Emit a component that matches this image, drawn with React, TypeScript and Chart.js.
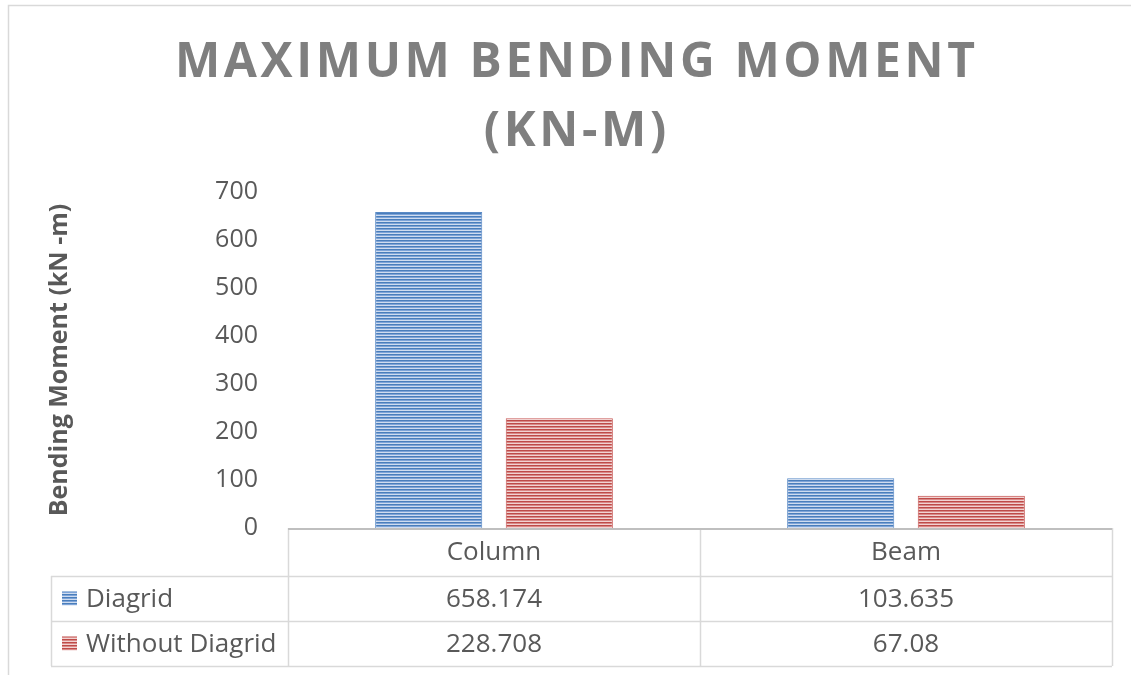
import React, { useEffect, useRef } from "react";
import { Chart, registerables } from "chart.js";

Chart.register(...registerables);

const titleLines = ["MAXIMUM BENDING MOMENT", "(KN-M)"];
const categories = ["Column", "Beam"];
const seriesNames = ["Diagrid", "Without Diagrid"];
const diagridValues = [658.174, 103.635];
const withoutDiagridValues = [228.708, 67.08];
const yAxisTitle = "Bending Moment (kN -m)";
const yMin = 0;
const yMax = 700;
const yStep = 100;

const FONT = "'Open Sans', 'DejaVu Sans', sans-serif";

function stripePattern(dark: string, mid: string, light: string) {
  const c = document.createElement("canvas");
  c.width = 4;
  c.height = 3;
  const g = c.getContext("2d")!;
  g.fillStyle = dark;
  g.fillRect(0, 0, 4, 1);
  g.fillStyle = mid;
  g.fillRect(0, 1, 4, 1);
  g.fillStyle = light;
  g.fillRect(0, 2, 4, 1);
  return g.createPattern(c, "repeat")!;
}

export default function App() {
  const ref = useRef<HTMLCanvasElement | null>(null);

  useEffect(() => {
    document.body.style.margin = "0";
    const canvas = ref.current!;
    const bluePattern = stripePattern("#4a7ebb", "#7ea4d8", "#cfdcef");
    const redPattern = stripePattern("#be4b48", "#d98987", "#f1d3d2");

    const framePlugin = {
      id: "frame",
      beforeDraw(chart: any) {
        const ctx = chart.ctx;
        ctx.save();
        ctx.fillStyle = "#ffffff";
        ctx.fillRect(0, 0, chart.width, chart.height);
        ctx.strokeStyle = "#d9d9d9";
        ctx.lineWidth = 1.5;
        ctx.beginPath();
        ctx.moveTo(8.5, chart.height + 2);
        ctx.lineTo(8.5, 5.5);
        ctx.lineTo(chart.width, 5.5);
        ctx.stroke();
        ctx.restore();
      },
    };

    const titlePlugin = {
      id: "spacedTitle",
      afterDraw(chart: any) {
        const ctx = chart.ctx;
        ctx.save();
        ctx.fillStyle = "#7f7f7f";
        ctx.font = `bold 48px ${FONT}`;
        ctx.textAlign = "center";
        ctx.textBaseline = "alphabetic";
        const targetWidth = 800;
        const plain = ctx.measureText(titleLines[0]).width;
        const spacing = (targetWidth - plain) / (titleLines[0].length - 1);
        (ctx as any).letterSpacing = `${spacing.toFixed(2)}px`;
        const cx = 575 + spacing / 2;
        ctx.fillText(titleLines[0], cx, 77);
        ctx.fillText(titleLines[1], cx, 146);
        ctx.restore();
      },
    };

    const tablePlugin = {
      id: "dataTable",
      afterDraw(chart: any) {
        const ctx = chart.ctx;
        const xs = chart.scales.x;
        const { left, right, bottom } = chart.chartArea;
        const n = categories.length;
        const cw = (right - left) / n;
        const rows = [bottom, bottom + 48, bottom + 93, bottom + 138];
        const labelLeft = 51;
        ctx.save();
        ctx.strokeStyle = "#d9d9d9";
        ctx.lineWidth = 1.5;
        ctx.beginPath();
        for (let r = 1; r < rows.length; r++) {
          ctx.moveTo(labelLeft, rows[r] + 0.5);
          ctx.lineTo(right, rows[r] + 0.5);
        }
        ctx.moveTo(labelLeft + 0.5, rows[1]);
        ctx.lineTo(labelLeft + 0.5, rows[3]);
        for (let i = 0; i <= n; i++) {
          const xx = Math.round(left + i * cw) + 0.5;
          ctx.moveTo(xx, rows[0]);
          ctx.lineTo(xx, rows[3]);
        }
        ctx.stroke();
        ctx.strokeStyle = "#bfbfbf";
        ctx.lineWidth = 2;
        ctx.beginPath();
        ctx.moveTo(left, rows[0] + 1);
        ctx.lineTo(right, rows[0] + 1);
        ctx.stroke();

        ctx.fillStyle = "#595959";
        ctx.font = `26px ${FONT}`;
        ctx.textBaseline = "middle";
        ctx.textAlign = "center";
        const series = [diagridValues, withoutDiagridValues];
        categories.forEach((c, i) => {
          const cx = xs.getPixelForValue(i);
          ctx.fillText(c, cx, (rows[0] + rows[1]) / 2 + 1);
          series.forEach((vals, s) => {
            ctx.fillText(String(vals[i]), cx, (rows[s + 1] + rows[s + 2]) / 2 + 1);
          });
        });
        ctx.textAlign = "left";
        const pats = [bluePattern, redPattern];
        seriesNames.forEach((name, s) => {
          const cy = (rows[s + 1] + rows[s + 2]) / 2;
          ctx.fillStyle = pats[s];
          ctx.fillRect(62, cy - 7, 15, 14);
          ctx.fillStyle = "#595959";
          ctx.fillText(name, 86, cy + 1);
        });
        ctx.restore();
      },
    };

    const chart = new Chart(canvas, {
      type: "bar",
      data: {
        labels: categories,
        datasets: [
          {
            label: seriesNames[0],
            data: diagridValues,
            backgroundColor: bluePattern as any,
            borderColor: "#5a8ac6",
            borderWidth: 1,
            categoryPercentage: 0.634,
            barPercentage: 0.82,
          },
          {
            label: seriesNames[1],
            data: withoutDiagridValues,
            backgroundColor: redPattern as any,
            borderColor: "#c85a57",
            borderWidth: 1,
            categoryPercentage: 0.634,
            barPercentage: 0.82,
          },
        ],
      },
      options: {
        responsive: false,
        animation: false,
        layout: { padding: { top: 192, bottom: 147, left: 0, right: 19 } },
        plugins: {
          legend: { display: false },
          title: { display: false },
          tooltip: { enabled: false },
        },
        scales: {
          x: {
            grid: { display: false, drawTicks: false },
            border: { display: false },
            ticks: { display: false },
            afterFit(scale: any) {
              scale.height = 0;
            },
          },
          y: {
            min: yMin,
            max: yMax,
            grid: { display: false, drawTicks: false },
            border: { display: false },
            ticks: {
              stepSize: yStep,
              padding: 30,
              color: "#595959",
              font: { family: FONT, size: 25 },
            },
            title: {
              display: true,
              text: yAxisTitle,
              color: "#595959",
              font: { family: FONT, size: 25, weight: "bold" },
              padding: { top: 45, bottom: 0 },
            },
            afterFit(scale: any) {
              scale.width = 288;
            },
          },
        },
      },
      plugins: [framePlugin, titlePlugin, tablePlugin],
    });
    return () => chart.destroy();
  }, []);

  return (
    <div style={{ position: "absolute", left: 0, top: 0, width: 1131, height: 675 }}>
      <canvas ref={ref} width={1131} height={675} style={{ display: "block" }} />
    </div>
  );
}
